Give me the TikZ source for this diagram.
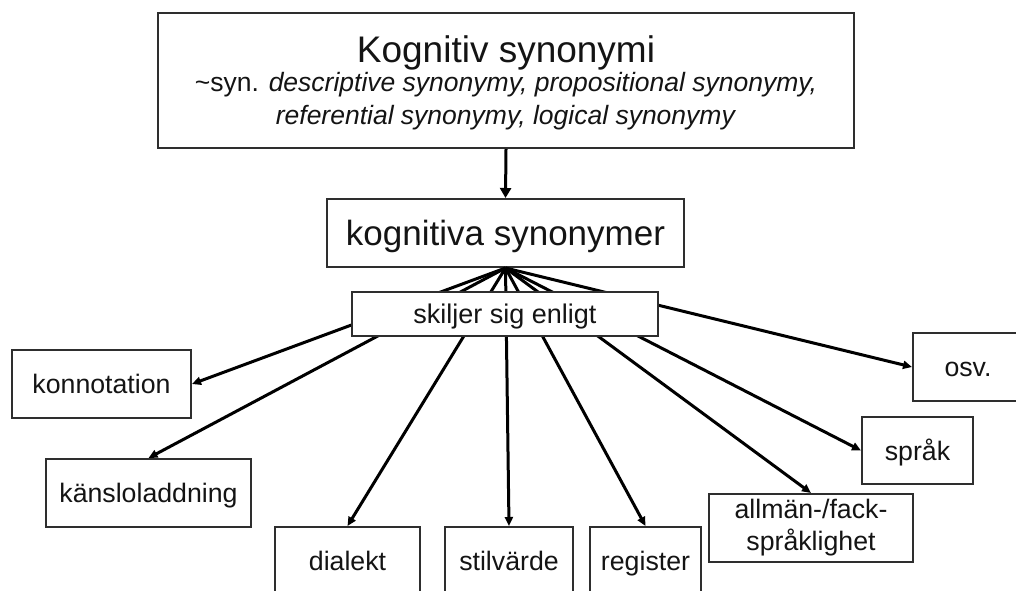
\documentclass[tikz,border=0pt]{standalone}
\usepackage{fontspec}
\setmainfont{Liberation Sans}
\usetikzlibrary{arrows.meta}
\definecolor{framegray}{HTML}{2E2E2E}
\definecolor{inkblack}{HTML}{141414}
\begin{document}
\begin{tikzpicture}[x=1pt,y=-1pt,
  box/.style={draw=framegray, line width=2pt, fill=white, inner sep=0pt,
    text=inkblack, minimum height=68pt, text height=19pt, text depth=0pt,
    font=\fontsize{26.7}{32}\selectfont},
  link/.style={draw=black, line width=3pt, -{Triangle[length=9pt,width=8pt]}},
  headline/.style={anchor=base, text=inkblack, inner sep=0pt}]

\useasboundingbox (0,0) rectangle (1016,590);
\clip (0,0) rectangle (1016,590);
\fill[white] (0,0) rectangle (1016,590);

% upper concept box with its three text lines
\node[box, minimum width=696pt, minimum height=135pt] (concept) at (506,80.5) {};
\node[headline, font=\fontsize{37}{44}\selectfont] (title) at (506,62) {Kognitiv synonymi};
\node[headline, font=\fontsize{26.5}{32}\selectfont] (synA) at (506,91)
  {\textasciitilde syn. \textit{descriptive synonymy, propositional synonymy,}};
\node[headline, font=\fontsize{26.5}{32}\selectfont] (synB) at (506,124)
  {\textit{referential synonymy, logical synonymy}};

% central term
\node[box, minimum width=357pt, text height=25pt, font=\fontsize{35}{42}\selectfont]
  (term) at (505.5,233) {kognitiva synonymer};

% the kinds of difference
\node[box, minimum width=179pt] (konn) at (101.5,384) {konnotation};
\node[box, minimum width=205pt] (kans) at (148.5,493) {känsloladdning};
\node[box, minimum width=145pt] (dial) at (347.5,561) {dialekt};
\node[box, minimum width=128pt] (stil) at (509,561) {stilvärde};
\node[box, minimum width=111pt] (regi) at (645.5,561) {register};
\node[box, minimum width=204pt, align=center, text height=, text depth=]
  (allm) at (811,528) {allmän-/fack-\\språklighet};
\node[box, minimum width=111pt, minimum height=67pt] (sprak) at (917.5,450.5) {språk};
\node[box, minimum width=110pt] (osv) at (968,367) {osv.};

% connectors
\draw[link, -{Triangle[length=10pt,width=11pt]}] (concept.south) -- (term.north);
\coordinate (hub) at (term.south);
\draw[link] (hub) -- (konn.east);
\draw[link] (hub) -- (kans.north);
\draw[link] (hub) -- (dial.north);
\draw[link] (hub) -- (stil.north);
\draw[link] (hub) -- (regi.north);
\draw[link] (hub) -- (allm.north);
\draw[link] (hub) -- (sprak.west);
\draw[link] (hub) -- (osv.west);

% label box laid over the fan of connectors
\node[box, minimum width=306pt, minimum height=44pt, font=\fontsize{27}{32}\selectfont]
  (crit) at (505,314) {skiljer sig enligt};
\end{tikzpicture}
\end{document}
